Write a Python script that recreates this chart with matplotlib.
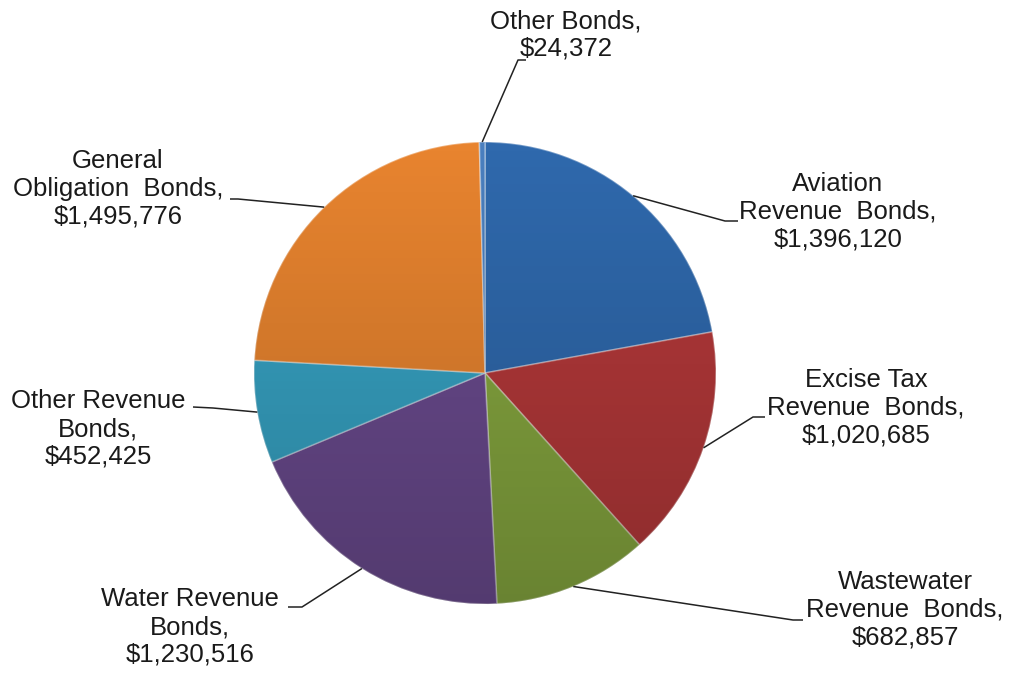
import matplotlib.pyplot as plt
import numpy as np
from matplotlib.patches import Circle

plt.rcParams['font.family'] = ['Liberation Sans', 'DejaVu Sans']

# bond categories, clockwise from 12 o'clock
categories = ['Aviation\nRevenue  Bonds', 'Excise Tax\nRevenue  Bonds',
              'Wastewater\nRevenue  Bonds', 'Water Revenue\nBonds',
              'Other Revenue\nBonds', 'General\nObligation  Bonds',
              'Other Bonds']
amounts = [1396120, 1020685, 682857, 1230516, 452425, 1495776, 24372]
colors = ['#2f69ad', '#b5393a', '#87a840', '#6b4b8f', '#37a3c4', '#e8842f', '#4a7fbf']

# label centre, elbow of leader, end of leader at the text (pixels, y up)
label_xy = [(838, 462), (866, 266), (905, 64), (190, 47), (98, 245), (118, 485), (566, 639)]
elbow_xy = [(725, 453), (753, 257), (793, 54), (302, 67), (213, 266), (238, 475), (518, 614)]
tail_xy = [(738, 453), (765, 257), (803, 54), (288, 67), (193, 267), (230, 475), (526, 614)]

W, H = 1009, 674
cx, cy, r = 485, 301, 231

fig = plt.figure(figsize=(W / 100, H / 100), dpi=100)
ax = fig.add_axes([0, 0, 1, 1])

wedges, _ = ax.pie(amounts, colors=colors, startangle=90, counterclock=False,
                   center=(cx, cy), radius=r, frame=True,
                   wedgeprops=dict(edgecolor=(1, 1, 1, 0.35), linewidth=1.2))

# darken the lower part of the pie a little
grad = np.zeros((256, 1, 4))
grad[..., 3] = np.linspace(0.22, 0.0, 256)[:, None]
clip = Circle((cx, cy), r, transform=ax.transData)
img = ax.imshow(grad, extent=(cx - r, cx + r, cy - r, cy + r), origin='lower',
                aspect='auto', zorder=3)
img.set_clip_path(clip)

for w, name, amt, lab, elb, tail in zip(wedges, categories, amounts,
                                        label_xy, elbow_xy, tail_xy):
    mid = np.deg2rad((w.theta1 + w.theta2) / 2)
    px, py = cx + r * np.cos(mid), cy + r * np.sin(mid)
    ax.plot([px, elb[0], tail[0]], [py, elb[1], tail[1]], color='#222222',
            lw=1.1, zorder=4, solid_capstyle='butt')
    ax.text(lab[0], lab[1], f'{name},\n${amt:,}', ha='center', va='center',
            multialignment='center', fontsize=18.5, color='#1a1a1a',
            linespacing=1.2, zorder=5)

ax.set_xlim(0, W)
ax.set_ylim(0, H)
ax.set_aspect('equal')
ax.axis('off')

fig.savefig('out.png', dpi=100, facecolor='white')
